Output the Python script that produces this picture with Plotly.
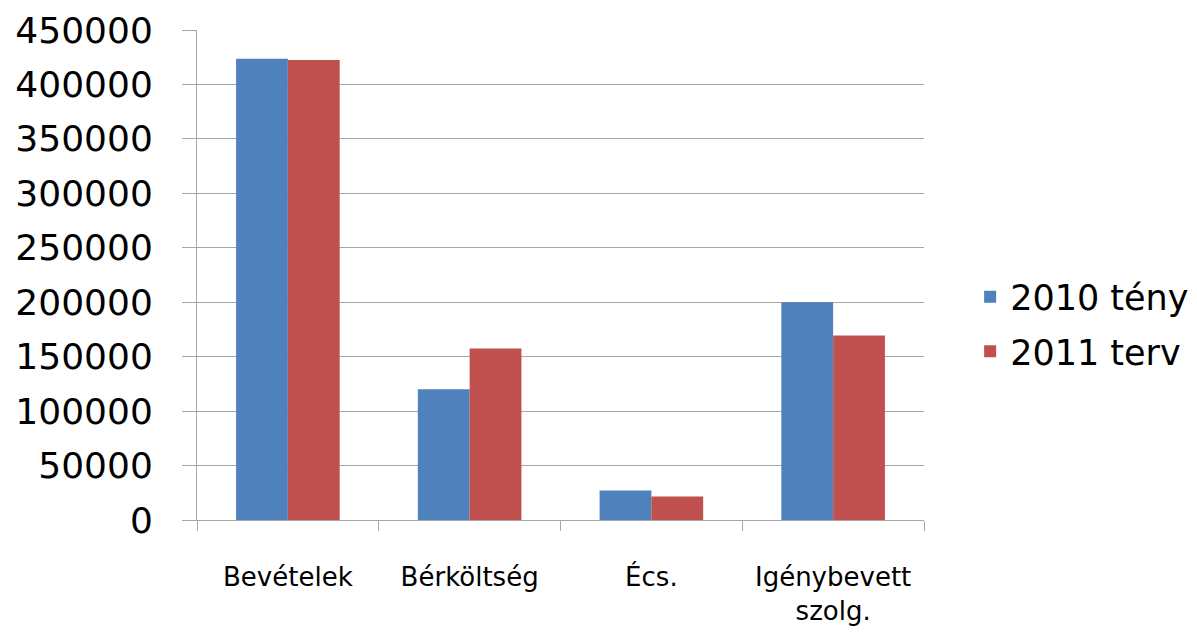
import plotly.graph_objects as go

categories = ["Bevételek", "Bérköltség", "Écs.", "Igénybevett<br>szolg."]
teny_2010 = [423500, 120000, 27000, 200000]
terv_2011 = [422500, 157500, 21500, 169500]

BLUE = "#4F81BD"
RED = "#C0504D"
GRID = "#A6A6A6"

fig = go.Figure()
fig.add_trace(go.Bar(x=categories, y=teny_2010, name="2010 tény", legendgroup="a",
                     marker=dict(color=BLUE, line=dict(width=0))))
fig.add_trace(go.Bar(x=categories, y=terv_2011, name="2011 terv", legendgroup="b",
                     marker=dict(color=RED, line=dict(width=0))))

# the page body adds 8px on the left and top, so margins are shifted by that
fig.update_layout(
    width=1197,
    height=632,
    barmode="group",
    bargap=0.43,
    bargroupgap=0,
    plot_bgcolor="white",
    paper_bgcolor="white",
    margin=dict(l=189, r=280, t=22, b=120),
    font=dict(family="DejaVu Sans", color="black"),
    legend=dict(x=1.062, y=0.40, yanchor="middle", xanchor="left",
                font=dict(size=35), itemwidth=30, tracegroupgap=6),
    xaxis=dict(
        automargin=False,
        showline=True, linecolor=GRID, linewidth=1,
        ticks="outside", tickson="boundaries", ticklen=10, tickcolor=GRID,
        tickfont=dict(size=26), ticklabelstandoff=34,
    ),
    yaxis=dict(
        automargin=False,
        range=[0, 450000], dtick=50000,
        showgrid=True, gridcolor=GRID, gridwidth=1,
        showline=True, linecolor=GRID, linewidth=1,
        ticks="outside", ticklen=14, tickcolor=GRID,
        tickfont=dict(size=36), tickformat="d", ticklabelstandoff=22,
        zeroline=False,
    ),
)

fig.write_html("out.html")
